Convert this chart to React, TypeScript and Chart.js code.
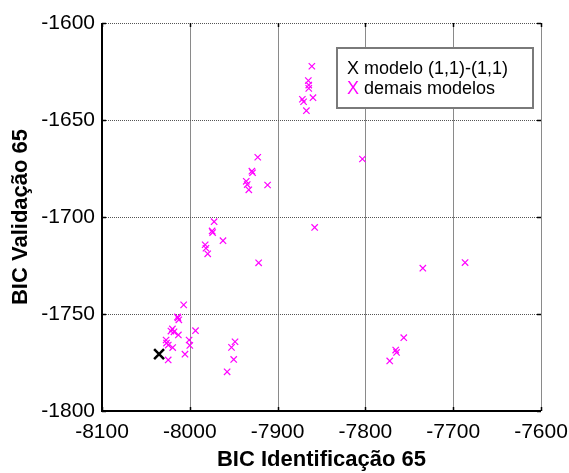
import React, { useEffect, useRef } from 'react';
import { Chart, registerables } from 'chart.js';

Chart.register(...registerables);

const xTicks = [-8100, -8000, -7900, -7800, -7700, -7600];
const yTicks = [-1800, -1750, -1700, -1650, -1600];

const bestX = [-8035];
const bestY = [-1770.7];

const otherX = [
  -7861, -7865, -7864.5, -7864.5, -7859.7, -7871.8, -7870.4, -7867.2, -7803.4, -7857.8,
  -7922.6, -7929.3, -7928.5, -7935.7, -7934.6, -7932.8, -7911.4, -7972.3, -7974.6, -7974,
  -7962.2, -7982.5, -7981.6, -7979.6, -7921.6, -7734.6, -7686.5,
  -8007, -8013.5, -8012.5, -8014, -8019.8, -8021.5, -8018, -8013, -7993.5,
  -8027, -8026.5, -8024.5, -8019.5, -8000.8, -8000, -8005.5, -8024.6,
  -7948.5, -7952.5, -7950, -7957.5,
  -7756.3, -7765.5, -7764.5, -7772.3,
];
const otherY = [
  -1622.3, -1629.7, -1632, -1633.7, -1638.5, -1639.3, -1640.6, -1645.2, -1670.1, -1705.4,
  -1669.2, -1676.4, -1677.2, -1681.6, -1683.3, -1686, -1683.5, -1702.4, -1707.2, -1708,
  -1712.2, -1714.3, -1716.1, -1719, -1723.6, -1726.4, -1723.5,
  -1745.3, -1752, -1753, -1751.5, -1757.7, -1758.8, -1759.2, -1760.8, -1758.6,
  -1763.4, -1765, -1766, -1767.3, -1763.4, -1766.2, -1770.7, -1773.7,
  -1764.3, -1767.2, -1773.4, -1779.8,
  -1762.2, -1768.6, -1769.8, -1774.2,
];

const legendLabels = ['modelo (1,1)-(1,1)', 'demais modelos'];
const xTitle = 'BIC Identificação 65';
const yTitle = 'BIC Validação 65';

const MAGENTA = '#ff00ff';
const FONT = '"Liberation Sans", Arial, sans-serif';

const framePlugin = {
  id: 'frame',
  beforeDatasetsDraw(chart: any) {
    const { ctx, chartArea: a, scales } = chart;
    const x = scales.x;
    const y = scales.y;
    ctx.save();
    ctx.lineWidth = 1;
    ctx.strokeStyle = '#8a8a8a';
    xTicks.forEach((v) => {
      const px = Math.round(x.getPixelForValue(v)) + 0.5;
      ctx.beginPath();
      ctx.moveTo(px, a.top);
      ctx.lineTo(px, a.bottom);
      ctx.stroke();
    });
    ctx.setLineDash([1, 1]);
    ctx.strokeStyle = '#555';
    yTicks.forEach((v) => {
      const py = Math.round(y.getPixelForValue(v)) + 0.5;
      ctx.beginPath();
      ctx.moveTo(a.left, py);
      ctx.lineTo(a.right, py);
      ctx.stroke();
    });
    ctx.setLineDash([]);
    ctx.strokeStyle = '#000';
    ctx.lineWidth = 1.5;
    xTicks.forEach((v) => {
      const px = Math.round(x.getPixelForValue(v)) + 0.5;
      ctx.beginPath();
      ctx.moveTo(px, a.bottom);
      ctx.lineTo(px, a.bottom - 4);
      ctx.moveTo(px, a.top);
      ctx.lineTo(px, a.top + 4);
      ctx.stroke();
    });
    yTicks.forEach((v) => {
      const py = Math.round(y.getPixelForValue(v)) + 0.5;
      ctx.beginPath();
      ctx.moveTo(a.left, py);
      ctx.lineTo(a.left + 4, py);
      ctx.moveTo(a.right, py);
      ctx.lineTo(a.right - 4, py);
      ctx.stroke();
    });
    ctx.lineWidth = 2;
    ctx.beginPath();
    ctx.moveTo(a.left, a.top);
    ctx.lineTo(a.left, a.bottom);
    ctx.lineTo(a.right, a.bottom);
    ctx.stroke();
    ctx.restore();
  },
  afterDatasetsDraw(chart: any) {
    const { ctx, chartArea: a } = chart;
    const w = 196;
    const h = 60;
    const bx = a.right - 8 - w;
    const by = a.top + 25;
    ctx.save();
    ctx.fillStyle = '#fff';
    ctx.fillRect(bx, by, w, h);
    ctx.strokeStyle = '#7a7a7a';
    ctx.lineWidth = 2;
    ctx.strokeRect(bx, by, w, h);
    ctx.font = `18px ${FONT}`;
    ctx.textBaseline = 'middle';
    ctx.textAlign = 'left';
    const tx = bx + 10;
    ctx.fillStyle = '#000';
    ctx.fillText('X', tx, by + 21);
    const xw = ctx.measureText('X ').width;
    ctx.fillText(legendLabels[0], tx + xw, by + 21);
    ctx.fillStyle = MAGENTA;
    ctx.fillText('X', tx, by + 41);
    ctx.fillStyle = '#000';
    ctx.fillText(legendLabels[1], tx + xw, by + 41);
    ctx.restore();
  },
};

export default function App() {
  const ref = useRef<HTMLCanvasElement>(null);
  useEffect(() => {
    document.body.style.margin = '0';
    const canvas = ref.current;
    if (!canvas) return;
    const chart = new Chart(canvas, {
      type: 'scatter',
      data: {
        datasets: [
          {
            label: legendLabels[0],
            data: bestX.map((v, i) => ({ x: v, y: bestY[i] })),
            pointStyle: 'crossRot',
            pointRadius: 7,
            pointBorderWidth: 2.5,
            borderColor: '#000',
            backgroundColor: '#000',
          },
          {
            label: legendLabels[1],
            data: otherX.map((v, i) => ({ x: v, y: otherY[i] })),
            pointStyle: 'crossRot',
            pointRadius: 4.5,
            pointBorderWidth: 1.2,
            borderColor: MAGENTA,
            backgroundColor: MAGENTA,
          },
        ],
      },
      options: {
        responsive: false,
        animation: false,
        layout: { padding: { top: 23, right: 28, left: 0, bottom: 0 } },
        plugins: { legend: { display: false }, tooltip: { enabled: false } },
        scales: {
          x: {
            type: 'linear',
            min: -8100,
            max: -7600,
            afterBuildTicks: (s: any) => {
              s.ticks = xTicks.map((v) => ({ value: v }));
            },
            afterFit: (s: any) => {
              s.height = 62;
              s.paddingLeft = 0;
              s.paddingRight = 0;
            },
            grid: { display: false, drawTicks: false },
            border: { display: false },
            ticks: {
              color: '#000',
              padding: 9,
              maxRotation: 0,
              font: { family: FONT, size: 21 },
              callback: (v: any) => String(v),
            },
            title: {
              display: true,
              text: xTitle,
              color: '#000',
              font: { family: FONT, size: 22, weight: 'bold' },
              padding: { top: 0, bottom: 0 },
            },
          },
          y: {
            type: 'linear',
            min: -1800,
            max: -1600,
            afterBuildTicks: (s: any) => {
              s.ticks = yTicks.map((v) => ({ value: v }));
            },
            afterFit: (s: any) => {
              s.width = 102;
              s.paddingTop = 0;
              s.paddingBottom = 0;
            },
            grid: { display: false, drawTicks: false },
            border: { display: false },
            ticks: {
              color: '#000',
              padding: 7,
              font: { family: FONT, size: 21 },
              callback: (v: any) => String(v),
            },
            title: {
              display: true,
              text: yTitle,
              color: '#000',
              font: { family: FONT, size: 22, weight: 'bold' },
              padding: { top: 8, bottom: 0 },
            },
          },
        },
      },
      plugins: [framePlugin],
    } as any);
    return () => chart.destroy();
  }, []);
  return (
    <div style={{ width: 569, height: 473 }}>
      <canvas ref={ref} width={569} height={473} style={{ display: 'block' }} />
    </div>
  );
}
